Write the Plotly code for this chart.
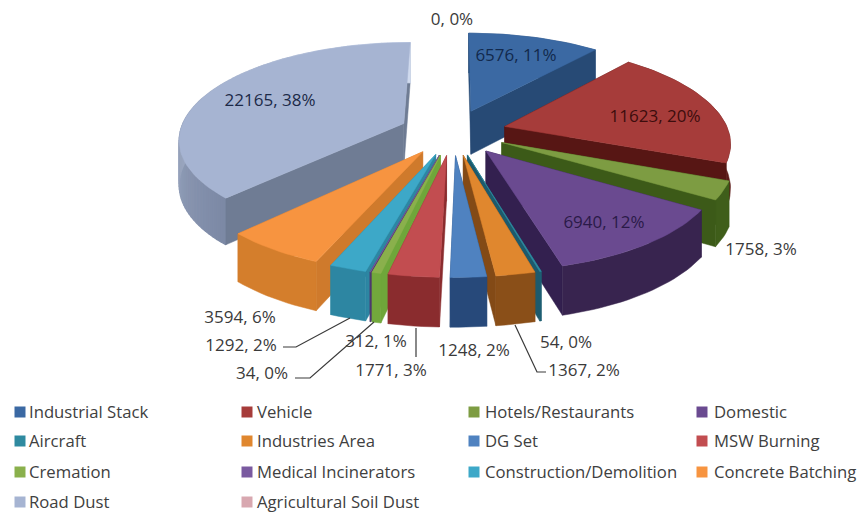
import math
import plotly.graph_objects as go

categories = ["Industrial Stack", "Vehicle", "Hotels/Restaurants", "Domestic", "Aircraft", "Industries Area",
              "DG Set", "MSW Burning", "Cremation", "Medical Incinerators", "Construction/Demolition",
              "Concrete Batching", "Road Dust", "Agricultural Soil Dust"]
values = [6576, 11623, 1758, 6940, 54, 1367, 1248, 1771, 312, 34, 1292, 3594, 22165, 0]
percents = [11, 20, 3, 12, 0, 2, 2, 3, 1, 0, 2, 6, 38, 0]

top_colors = ["#3b69a3", "#a63c3a", "#7d9c42", "#6a4a90", "#2f8aa0", "#e0872e", "#4f82c0", "#c24d50",
              "#8ab04c", "#7a5aa0", "#3da8c8", "#f79440", "#a6b4d2", "#d8a8b0"]
wall_colors = ["#274a75", "#571614", "#3c5a18", "#33204f", "#1d5a6c", "#834a16", "#25497a", "#8a2c2e",
               "#6fa63a", "#4f3a70", "#2d86a2", "#cf7a2c", "#6f7c94", "#a08088"]
# outer rim shading: colour at the start and at the end of each slice's arc
arc_start = ["#2c5282", "#5c1a18", "#3f5e1a", "#38244f", "#1f6074", "#8a4f18", "#27497a", "#8a2c2e",
             "#72a83c", "#4f3a70", "#2d86a2", "#d47e2c", "#7c89a5", "#a08088"]
arc_end = ["#2c5282", "#5c1a18", "#3f5e1a", "#38244f", "#1f6074", "#8a4f18", "#27497a", "#8a2c2e",
           "#72a83c", "#4f3a70", "#2d86a2", "#d47e2c", "#d0daee", "#a08088"]
label_colors = ["#12294d", "#3d0d0d", "#3a3a3a", "#2a1a48", "#3a3a3a", "#3a3a3a", "#3a3a3a", "#3a3a3a",
                "#3a3a3a", "#3a3a3a", "#3a3a3a", "#3a3a3a", "#1c2a48", "#3a3a3a"]

# pixel anchor of each value label (canvas coordinates)
label_x = [516, 655, 761, 604, 566, 584, 474, 391, 376, 262, 241, 240, 270, 452]
label_y = [57, 118, 251, 224, 344, 372, 352, 372, 343, 375, 347, 319, 102, 21]

# leader lines for the labels that sit apart from their slice
leaders = [[(283, 347), (296, 347), (350, 318)],
           [(295, 378), (310, 378), (374, 322)],
           [(416, 328), (416, 357)],
           [(515, 325), (537, 372), (546, 372)]]

legend_cols = [20, 247, 474, 702]
legend_text_cols = [29, 257, 485, 714]
legend_rows = [412, 441, 472, 502]
FONT = "Open Sans"
CANVAS_W, CANVAS_H = 857, 513

# exploded perspective pie projection
CX, CY, RX, RY, PERSP, EXPLODE, DEPTH = 453, 132, 224, 95.5, 0.15, 0.24, 44
TOTAL = sum(values)


def project(X, Y, low=False):
    w = 1 / (1 + PERSP * Y)
    sx = CX + RX * X * w
    sy = CY - RY * Y * w
    if low:
        sy += DEPTH * w ** 0.6
    return sx, sy


def poly(pts, color, name, edge=0.5):
    xs = [p[0] for p in pts] + [pts[0][0]]
    ys = [p[1] for p in pts] + [pts[0][1]]
    return go.Scatter(x=xs, y=ys, mode="lines", fill="toself", fillcolor=color,
                      line=dict(color=color, width=edge), name=name, showlegend=False, hoverinfo="name")


def blend(c0, c1, t):
    a = [int(c0[j:j + 2], 16) for j in (1, 3, 5)]
    b = [int(c1[j:j + 2], 16) for j in (1, 3, 5)]
    return "#" + "".join(f"{round(p + (q - p) * t):02x}" for p, q in zip(a, b))


slices = []
cum = 0
for i, v in enumerate(values):
    a0 = cum / TOTAL * 2 * math.pi
    cum += v
    a1 = cum / TOTAL * 2 * math.pi
    if v > 0:
        slices.append((i, a0, a1, (a0 + a1) / 2))
slices.sort(key=lambda s: -math.cos(s[3]))

fig = go.Figure()
for i, a0, a1, m in slices:
    ox, oy = EXPLODE * math.sin(m), EXPLODE * math.cos(m)
    n = max(2, int((a1 - a0) / 0.03))
    rim = [(ox + math.sin(a0 + (a1 - a0) * k / n), oy + math.cos(a0 + (a1 - a0) * k / n)) for k in range(n + 1)]
    apex = (ox, oy)
    walls = []
    for edge in (rim[0], rim[-1]):
        pts = [project(*apex), project(*edge), project(*edge, True), project(*apex, True)]
        walls.append(((apex[1] + edge[1]) / 2, [(pts, wall_colors[i], 0.5)]))
    if arc_start[i] == arc_end[i]:
        arc_parts = [([project(*p) for p in rim] + [project(*p, True) for p in reversed(rim)], arc_start[i], 0.5)]
    else:
        arc_parts = []
        for b in range(n):
            part = rim[b:b + 2]
            arc_parts.append(([project(*p) for p in part] + [project(*p, True) for p in reversed(part)],
                              blend(arc_start[i], arc_end[i], b / (n - 1)), 1.2))
    walls.append((sum(p[1] for p in rim) / len(rim), arc_parts))
    walls.sort(key=lambda w: -w[0])
    for _, parts in walls:
        for pts, col, lw in parts:
            fig.add_trace(poly(pts, col, categories[i], lw))
    top = [project(*apex)] + [project(*p) for p in rim]
    fig.add_trace(poly(top, top_colors[i], categories[i]))

# value labels
fig.add_trace(go.Scatter(x=label_x, y=label_y, mode="text",
                         text=[f"{v}, {p}%" for v, p in zip(values, percents)],
                         textposition="middle center", cliponaxis=False,
                         textfont=dict(family=FONT, size=17, color=label_colors),
                         showlegend=False, hoverinfo="skip"))

# leader lines
for seg in leaders:
    fig.add_trace(go.Scatter(x=[p[0] for p in seg], y=[p[1] for p in seg], mode="lines",
                             line=dict(color="#3a3a3a", width=1.2), showlegend=False, hoverinfo="skip"))

# legend
lx = [legend_cols[i % 4] for i in range(len(categories))]
ltx = [legend_text_cols[i % 4] for i in range(len(categories))]
ly = [legend_rows[i // 4] for i in range(len(categories))]
fig.add_trace(go.Scatter(x=lx, y=ly, mode="markers",
                         marker=dict(symbol="square", size=11, color=top_colors),
                         showlegend=False, hoverinfo="skip", cliponaxis=False))
fig.add_trace(go.Scatter(x=ltx, y=[y + 2 for y in ly], mode="text", text=categories,
                         textposition="middle right", cliponaxis=False,
                         textfont=dict(family=FONT, size=16.7, color="#404040"),
                         showlegend=False, hoverinfo="text"))

fig.update_layout(width=CANVAS_W, height=CANVAS_H,
                  margin=dict(l=0, r=0, t=0, b=0),
                  paper_bgcolor="white", plot_bgcolor="white", showlegend=False,
                  xaxis=dict(range=[0, CANVAS_W], visible=False, fixedrange=True),
                  yaxis=dict(range=[CANVAS_H, 0], visible=False, fixedrange=True))
fig.write_html("out.html", default_width=f"{CANVAS_W}px", default_height=f"{CANVAS_H}px",
               config={"displayModeBar": False},
               post_script="document.body.style.margin='0';document.documentElement.style.overflow='hidden';")
